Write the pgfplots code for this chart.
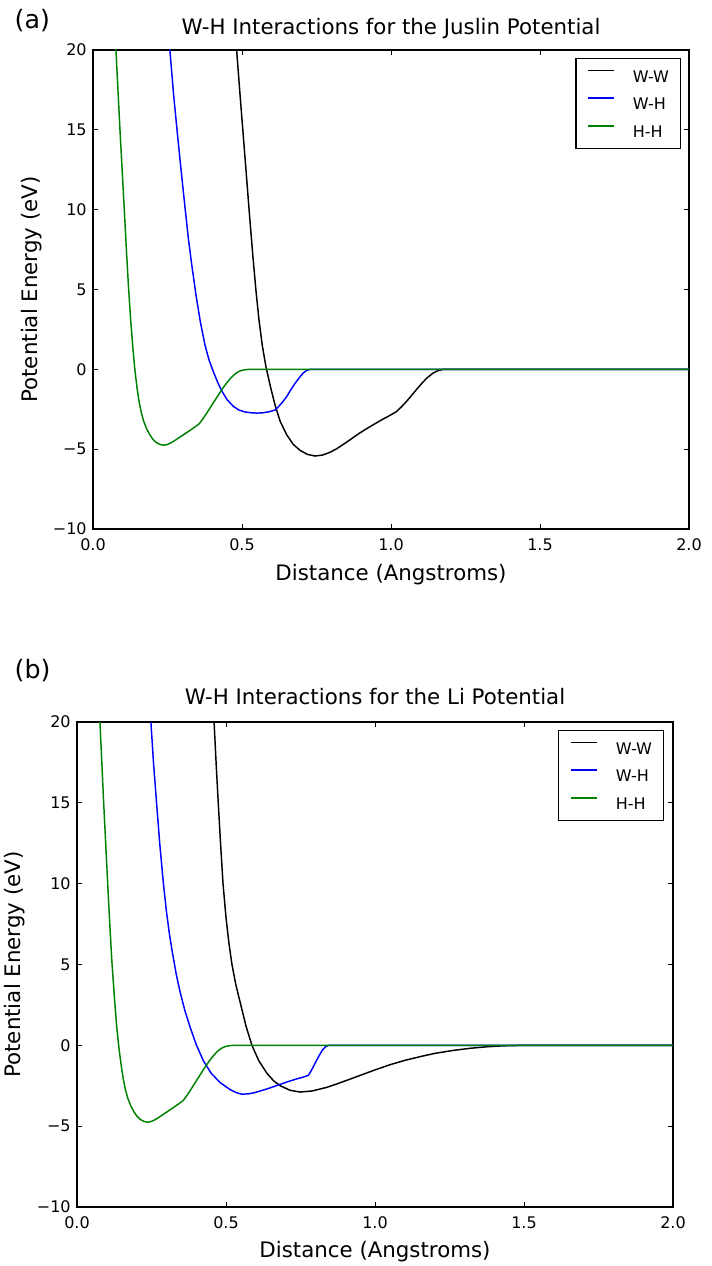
\documentclass[border=0pt]{standalone}
\usepackage{fontspec}
\setmainfont{DejaVu Sans}
\usepackage{pgfplots}
\pgfplotsset{compat=1.18}

\definecolor{mplgreen}{rgb}{0,0.5,0}

% shared look of both panels (1 px of the reference = 0.75pt)
\pgfplotsset{
  potax/.style={
    scale only axis, width=447pt,
    xmin=0, xmax=2, ymin=-10, ymax=20,
    axis line style={line width=1pt},
    tick align=inside, major tick length=3.5pt,
    every tick/.style={black, line width=0.6pt},
    xtick={0,0.5,1,1.5,2}, xticklabels={0.0,0.5,1.0,1.5,2.0},
    ytick={-10,-5,0,5,10,15,20}, yticklabels={−10,−5,0,5,10,15,20},
    ticklabel style={font=\fontsize{12}{14}\selectfont},
    xticklabel style={yshift=-3.5pt},
    yticklabel style={xshift=-1.25pt},
    label style={font=\fontsize{16}{19}\selectfont},
    title style={font=\fontsize{16}{19}\selectfont, anchor=base},
    xlabel={Distance (Angstroms)},
    ylabel={Potential Energy (eV)},
    legend cell align=left,
    legend image code/.code={\draw[#1] (0pt,4.4pt) -- (19.5pt,4.4pt);},
    legend style={anchor=north east, draw=black, line width=0.8pt, fill=white,
      font=\fontsize{12}{14}\selectfont, inner xsep=8.6pt, inner ysep=8.3pt,
      row sep=11.5pt, column sep=13.5pt,
      nodes={inner sep=0pt, text height=8.75pt, text depth=0pt}},
    every axis plot/.append style={line width=1.1pt, line join=round},
  }
}

\begin{document}
\begin{tikzpicture}
\useasboundingbox (0,0) rectangle (533.25pt,-949.5pt);

\node[anchor=base west, font=\fontsize{19}{22}\selectfont] at (7.5pt,-21.75pt) {(a)};
\node[anchor=base west, font=\fontsize{19}{22}\selectfont] at (7.5pt,-508.5pt) {(b)};

% (a) Juslin
\begin{axis}[potax, at={(69.75pt,-37.5pt)}, anchor=north west, height=359.25pt,
  title={W-H Interactions for the Juslin Potential},
  title style={at={(axis description cs:0.5,1.0167)}},
  xlabel style={at={(axis description cs:0.5,-0.1065)}, anchor=base},
  ylabel style={at={(axis description cs:-0.1023,0.5)}, anchor=center},
  legend style={at={(axis description cs:0.9866,0.9833)}}]

\addplot[black] coordinates {
  (0.476,23) (0.482,20) (0.493,17.3) (0.504,14.7) (0.515,12.1) (0.525,9.7)
  (0.536,7.2) (0.547,4.9) (0.557,3.1) (0.568,1.5) (0.580,0.2) (0.595,-1.05)
  (0.611,-2.25) (0.628,-3.25) (0.650,-4.1) (0.672,-4.7) (0.695,-5.08)
  (0.720,-5.33) (0.745,-5.43) (0.770,-5.37) (0.795,-5.2) (0.817,-4.98)
  (0.840,-4.7) (0.865,-4.38) (0.890,-4.05) (0.918,-3.72) (0.945,-3.42)
  (0.970,-3.15) (0.995,-2.9) (1.018,-2.65) (1.035,-2.35) (1.055,-1.95)
  (1.075,-1.5) (1.100,-0.95) (1.120,-0.55) (1.140,-0.25) (1.158,-0.08)
  (1.175,0) (2.0,0)
};
\addlegendentry{W-W}

\addplot[blue] coordinates {
  (0.252,22) (0.258,20) (0.270,17.3) (0.283,14.8) (0.296,12.4) (0.309,10.1)
  (0.320,8.2) (0.331,6.6) (0.346,4.6) (0.360,3.0) (0.376,1.5) (0.390,0.55)
  (0.404,-0.15) (0.418,-0.8) (0.432,-1.35) (0.450,-1.9) (0.471,-2.32)
  (0.490,-2.55) (0.510,-2.67) (0.530,-2.72) (0.550,-2.74) (0.570,-2.72)
  (0.590,-2.66) (0.611,-2.55) (0.622,-2.35) (0.636,-2.05) (0.650,-1.71)
  (0.662,-1.33) (0.673,-1.02) (0.683,-0.75) (0.695,-0.46) (0.706,-0.22)
  (0.717,-0.07) (0.728,0) (2.0,0)
};
\addlegendentry{W-H}

\addplot[mplgreen] coordinates {
  (0.072,21.8) (0.077,20) (0.0905,15) (0.105,10) (0.112,7.5) (0.119,5.2)
  (0.126,3.2) (0.134,1.3) (0.141,-0.1) (0.148,-1.2) (0.155,-2.05)
  (0.162,-2.7) (0.170,-3.25) (0.180,-3.72) (0.190,-4.08) (0.201,-4.38)
  (0.212,-4.58) (0.224,-4.70) (0.235,-4.75) (0.247,-4.72) (0.260,-4.62)
  (0.275,-4.45) (0.300,-4.14) (0.325,-3.83) (0.345,-3.57) (0.357,-3.4)
  (0.367,-3.15) (0.378,-2.85) (0.390,-2.5) (0.402,-2.15) (0.414,-1.8)
  (0.426,-1.45) (0.438,-1.12) (0.450,-0.82) (0.462,-0.55) (0.474,-0.33)
  (0.486,-0.17) (0.498,-0.07) (0.512,-0.02) (0.525,0) (2.0,0)
};
\addlegendentry{H-H}
\end{axis}

% (b) Li
\begin{axis}[potax, at={(57.75pt,-541.5pt)}, anchor=north west, height=363.75pt,
  title={W-H Interactions for the Li Potential},
  title style={at={(axis description cs:0.5,1.0186)}},
  xlabel style={at={(axis description cs:0.5,-0.1031)}, anchor=base},
  ylabel style={at={(axis description cs:-0.104,0.5)}, anchor=center},
  legend style={at={(axis description cs:0.9849,0.9835)}}]

\addplot[black] coordinates {
  (0.456,23) (0.460,20) (0.467,17.4) (0.474,15) (0.482,12.4) (0.490,10)
  (0.500,7.9) (0.510,6.3) (0.520,5.0) (0.533,3.75) (0.547,2.7) (0.567,1.2)
  (0.587,0.0) (0.610,-0.95) (0.637,-1.72) (0.660,-2.2) (0.682,-2.5)
  (0.715,-2.78) (0.749,-2.89) (0.790,-2.82) (0.838,-2.6) (0.870,-2.4)
  (0.900,-2.2) (0.950,-1.86) (0.994,-1.56) (1.050,-1.2) (1.100,-0.93)
  (1.151,-0.7) (1.200,-0.5) (1.260,-0.32) (1.320,-0.18) (1.374,-0.09)
  (1.430,-0.03) (1.500,0) (2.0,0)
};
\addlegendentry{W-W}

\addplot[blue] coordinates {
  (0.243,22) (0.248,20) (0.257,17.4) (0.267,15) (0.278,12.4) (0.290,10)
  (0.300,8.3) (0.310,6.9) (0.320,5.75) (0.333,4.4) (0.346,3.3) (0.362,2.15)
  (0.380,1.1) (0.400,0.05) (0.424,-0.95) (0.450,-1.72) (0.480,-2.3)
  (0.515,-2.75) (0.535,-2.93) (0.553,-3.02) (0.575,-3.0) (0.595,-2.93)
  (0.637,-2.7) (0.670,-2.49) (0.704,-2.27) (0.740,-2.06) (0.762,-1.95)
  (0.776,-1.86) (0.785,-1.6) (0.795,-1.25) (0.810,-0.72) (0.822,-0.33)
  (0.833,-0.1) (0.843,0) (2.0,0)
};
\addlegendentry{W-H}

\addplot[mplgreen] coordinates {
  (0.072,21.8) (0.077,20) (0.0895,15) (0.103,10) (0.110,7.5) (0.117,5.2)
  (0.125,3.1) (0.133,1.2) (0.141,-0.2) (0.148,-1.2) (0.155,-2.05)
  (0.162,-2.7) (0.170,-3.25) (0.180,-3.72) (0.190,-4.08) (0.201,-4.38)
  (0.212,-4.58) (0.224,-4.70) (0.235,-4.75) (0.247,-4.72) (0.260,-4.62)
  (0.275,-4.45) (0.300,-4.14) (0.325,-3.83) (0.345,-3.57) (0.357,-3.4)
  (0.367,-3.15) (0.378,-2.85) (0.390,-2.5) (0.402,-2.15) (0.414,-1.8)
  (0.426,-1.45) (0.438,-1.12) (0.450,-0.82) (0.462,-0.55) (0.474,-0.33)
  (0.486,-0.17) (0.498,-0.07) (0.512,-0.02) (0.525,0) (2.0,0)
};
\addlegendentry{H-H}
\end{axis}
\end{tikzpicture}
\end{document}
